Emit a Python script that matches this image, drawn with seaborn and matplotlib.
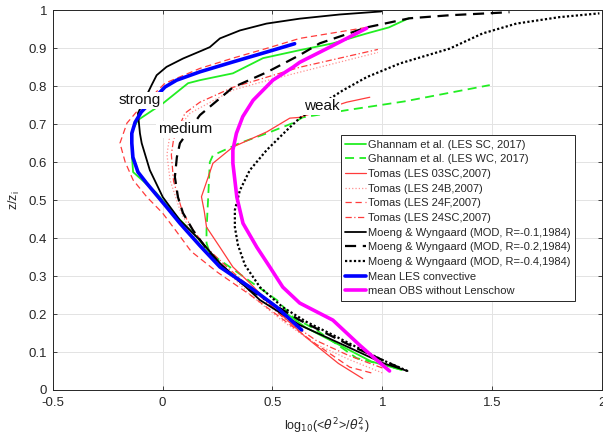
import matplotlib
matplotlib.use("Agg")
import matplotlib.pyplot as plt
import seaborn as sns
import pandas as pd

# ---------------- data ----------------
gh_sc_x = [1.088, 0.95, 0.80, 0.65, 0.52, 0.40, 0.26, 0.16, 0.06, -0.03, -0.134, -0.14, -0.14, -0.112,
           0.002, 0.116, 0.17, 0.32, 0.457, 0.624, 0.775, 0.929, 1.03, 1.12]
gh_sc_y = [0.053, 0.075, 0.12, 0.165, 0.22, 0.27, 0.33, 0.40, 0.46, 0.52, 0.574, 0.62, 0.68, 0.711,
           0.755, 0.808, 0.816, 0.834, 0.874, 0.895, 0.913, 0.939, 0.955, 0.979]

gh_wc_x = [1.09, 0.883, 0.70, 0.593, 0.52, 0.411, 0.306, 0.215, 0.20, 0.20, 0.207, 0.215, 0.229,
           0.35, 0.475, 0.593, 0.638, 0.838, 1.10, 1.489]
gh_wc_y = [0.053, 0.084, 0.158, 0.192, 0.237, 0.281, 0.324, 0.36, 0.387, 0.421, 0.50, 0.60, 0.618,
           0.65, 0.676, 0.703, 0.718, 0.737, 0.76, 0.803]

tom03_x = [0.911, 0.80, 0.65, 0.50, 0.40, 0.32, 0.261, 0.20, 0.19, 0.177, 0.229, 0.32, 0.475,
           0.579, 0.624, 0.838, 0.943]
tom03_y = [0.03, 0.07, 0.14, 0.22, 0.28, 0.324, 0.376, 0.429, 0.47, 0.509, 0.597, 0.64, 0.68,
           0.716, 0.718, 0.758, 0.771]

tom24b_x = [1.0, 0.85, 0.70, 0.55, 0.40, 0.28, 0.184, 0.125, 0.079, 0.034, 0.02, 0.03, 0.125,
            0.32, 0.475, 0.624, 0.98]
tom24b_y = [0.045, 0.08, 0.12, 0.18, 0.25, 0.32, 0.37, 0.421, 0.474, 0.553, 0.62, 0.66, 0.729,
            0.79, 0.815, 0.837, 0.889]

tom24f_x = [0.95, 0.852, 0.70, 0.55, 0.40, 0.25, 0.13, 0.06, 0.0, -0.071, -0.134, -0.17, -0.194,
            -0.162, -0.112, 0.011, 0.17, 0.32, 0.475, 0.624, 0.929]
tom24f_y = [0.045, 0.06, 0.12, 0.185, 0.25, 0.31, 0.365, 0.42, 0.466, 0.508, 0.553, 0.60, 0.65,
            0.703, 0.737, 0.808, 0.847, 0.874, 0.90, 0.926, 0.955]

tom24sc_x = [1.0, 0.85, 0.70, 0.55, 0.42, 0.30, 0.20, 0.14, 0.09, 0.05, 0.04, 0.05, 0.102, 0.17,
             0.32, 0.475, 0.624, 0.98]
tom24sc_y = [0.058, 0.09, 0.13, 0.19, 0.26, 0.32, 0.375, 0.42, 0.47, 0.55, 0.62, 0.66, 0.729,
             0.758, 0.797, 0.824, 0.850, 0.897]

mw1_x = [1.115, 1.002, 0.852, 0.624, 0.443, 0.261, 0.170, 0.079, 0.001, -0.058, -0.095, -0.103,
         -0.112, -0.049, -0.027, 0.018, 0.093, 0.183, 0.215, 0.261, 0.352, 0.473, 0.624, 0.806, 0.995]
mw1_y = [0.05, 0.071, 0.111, 0.171, 0.237, 0.334, 0.395, 0.447, 0.508, 0.579, 0.650, 0.676,
         0.729, 0.804, 0.829, 0.851, 0.873, 0.895, 0.903, 0.926, 0.947, 0.965, 0.978, 0.989, 0.997]

mw2_x = [1.08, 0.852, 0.624, 0.397, 0.238, 0.138, 0.093, 0.070, 0.056, 0.065, 0.079, 0.170,
         0.320, 0.475, 0.624, 0.715, 0.929, 1.124, 1.306, 1.579]
mw2_y = [0.058, 0.118, 0.184, 0.263, 0.342, 0.421, 0.466, 0.508, 0.561, 0.613, 0.650, 0.724,
         0.797, 0.837, 0.882, 0.913, 0.955, 0.979, 0.987, 0.995]

mw4_x = [1.115, 1.0, 0.883, 0.775, 0.656, 0.547, 0.443, 0.375, 0.343, 0.329, 0.329, 0.352, 0.397,
         0.474, 0.565, 0.624, 0.820, 0.929, 1.08, 1.306, 1.456, 1.61, 1.806, 1.988]
mw4_y = [0.05, 0.079, 0.113, 0.145, 0.179, 0.218, 0.271, 0.329, 0.382, 0.429, 0.474, 0.526,
         0.579, 0.632, 0.684, 0.716, 0.789, 0.824, 0.860, 0.899, 0.939, 0.965, 0.982, 0.992]

les_x = [0.633, 0.52, 0.397, 0.261, 0.17, 0.079, 0.018, -0.073, -0.112, -0.135, -0.14, -0.14,
         -0.125, -0.097, 0.011, 0.064, 0.170, 0.320, 0.473, 0.601]
les_y = [0.158, 0.218, 0.271, 0.324, 0.38, 0.439, 0.482, 0.545, 0.574, 0.613, 0.65, 0.676,
         0.705, 0.732, 0.798, 0.816, 0.838, 0.864, 0.890, 0.912]

obs_x = [1.033, 0.974, 0.897, 0.775, 0.624, 0.547, 0.488, 0.429, 0.366, 0.338, 0.32, 0.32, 0.336,
         0.365, 0.412, 0.502, 0.593, 0.624, 0.761, 0.929]
obs_y = [0.05, 0.079, 0.118, 0.184, 0.229, 0.271, 0.324, 0.376, 0.439, 0.508, 0.597, 0.632, 0.676,
         0.72, 0.763, 0.816, 0.850, 0.863, 0.903, 0.953]

labels = ["Ghannam et al. (LES SC, 2017)", "Ghannam et al. (LES WC, 2017)",
          "Tomas (LES 03SC,2007)", "Tomas (LES 24B,2007)", "Tomas (LES 24F,2007)",
          "Tomas (LES 24SC,2007)", "Moeng & Wyngaard (MOD, R=-0.1,1984)",
          "Moeng & Wyngaard (MOD, R=-0.2,1984)", "Moeng & Wyngaard (MOD, R=-0.4,1984)",
          "Mean LES convective", "mean OBS without Lenschow"]

regime_text = ["strong", "medium", "weak"]
regime_x = [-0.102, 0.102, 0.725]
regime_y = [0.763, 0.687, 0.747]

x_ticks = [-0.5, 0, 0.5, 1, 1.5, 2]
x_tick_labels = ["-0.5", "0", "0.5", "1", "1.5", "2"]
y_ticks = [0, 0.1, 0.2, 0.3, 0.4, 0.5, 0.6, 0.7, 0.8, 0.9, 1]
y_tick_labels = ["0", "0.1", "0.2", "0.3", "0.4", "0.5", "0.6", "0.7", "0.8", "0.9", "1"]

# ---------------- styles ----------------
series = [
    (gh_sc_x, gh_sc_y, dict(color="#22ee22", lw=1.3, ls="-")),
    (gh_wc_x, gh_wc_y, dict(color="#22ee22", lw=1.3, ls=(0, (5, 3)))),
    (tom03_x, tom03_y, dict(color="#ff3b3b", lw=0.9, ls="-")),
    (tom24b_x, tom24b_y, dict(color="#ff9090", lw=0.9, ls=":")),
    (tom24f_x, tom24f_y, dict(color="#ff3b3b", lw=0.9, ls=(0, (5, 3)))),
    (tom24sc_x, tom24sc_y, dict(color="#ff3b3b", lw=0.9, ls=(0, (5, 2, 1, 2)))),
    (mw1_x, mw1_y, dict(color="black", lw=1.3, ls="-")),
    (mw2_x, mw2_y, dict(color="black", lw=1.6, ls=(0, (5, 3)))),
    (mw4_x, mw4_y, dict(color="black", lw=1.6, ls=(0, (1, 1)))),
    (les_x, les_y, dict(color="#0000ff", lw=2.6, ls="-")),
    (obs_x, obs_y, dict(color="#ff00ff", lw=2.6, ls="-")),
]

sns.set_theme(style="whitegrid")
plt.rcParams["font.family"] = ["Liberation Sans", "DejaVu Sans"]

fig = plt.figure(figsize=(6.03, 4.37), dpi=100)
ax = fig.add_axes([0.0874, 0.1076, 0.911, 0.8688])

for (xs, ys, st), lab in zip(series, labels):
    df = pd.DataFrame({"x": xs, "y": ys})
    sns.lineplot(data=df, x="x", y="y", sort=False, estimator=None, ax=ax,
                 color=st["color"], linewidth=st["lw"], linestyle=st["ls"], label=lab)

for t, tx, ty in zip(regime_text, regime_x, regime_y):
    ax.text(tx, ty, t, fontsize=11, ha="center", va="center", color="#111111", zorder=10,
            bbox=dict(facecolor="white", edgecolor="none", pad=1.0))

ax.set_xlim(-0.5, 2)
ax.set_ylim(0, 1)
ax.set_xticks(x_ticks)
ax.set_xticklabels(x_tick_labels)
ax.set_yticks(y_ticks)
ax.set_yticklabels(y_tick_labels)
ax.grid(True, color="#e3e3e3", linewidth=0.7)
ax.set_facecolor("white")
for s in ax.spines.values():
    s.set_color("#262626")
    s.set_linewidth(0.7)
ax.tick_params(axis="both", direction="in", length=3, width=0.6, color="#262626",
               labelsize=9.5, labelcolor="#262626")
ax.tick_params(axis="x", pad=5)
ax.tick_params(axis="y", pad=4)
ax.tick_params(top=True, right=True, bottom=True, left=True, labeltop=False, labelright=False)

ax.set_xlabel(r"log$_{10}$(<$\theta^2$>/$\theta_*^2$)", fontsize=9, color="#262626", labelpad=6)
ax.set_ylabel(r"z/z$_\mathregular{i}$", fontsize=9, color="#262626", labelpad=5)

leg = ax.legend(loc="upper right", bbox_to_anchor=(0.951, 0.671), borderaxespad=0,
                fontsize=8, frameon=True, fancybox=False, handlelength=1.9, handletextpad=0.15,
                labelspacing=0.42, borderpad=0.4, edgecolor="#262626", framealpha=1)
leg.get_frame().set_linewidth(0.7)

fig.savefig("out.png", dpi=100, facecolor="white")
